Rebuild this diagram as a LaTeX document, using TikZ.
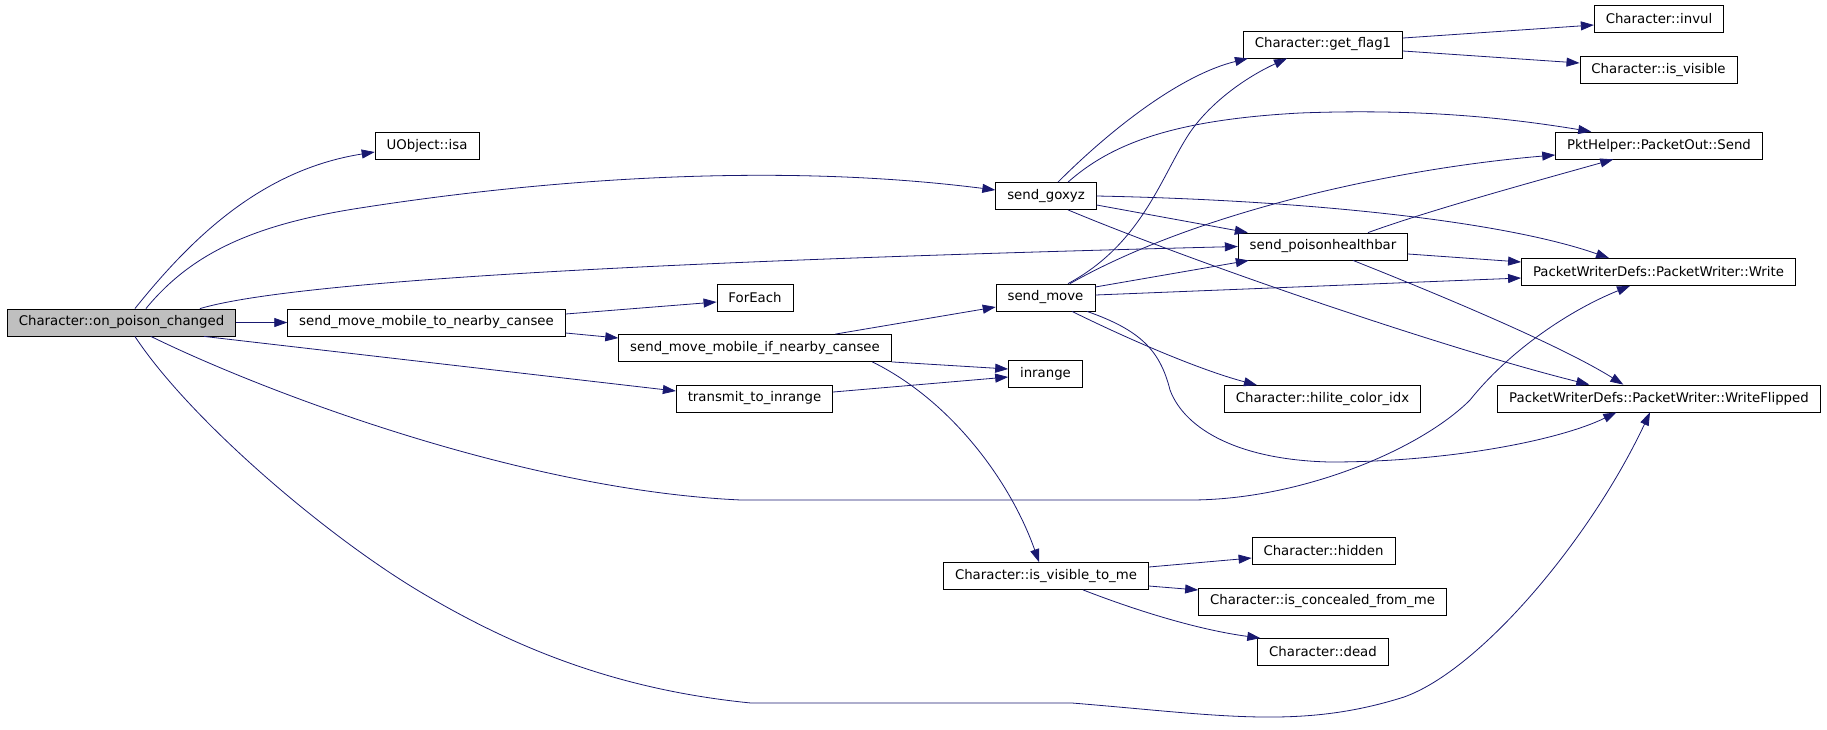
\documentclass[tikz,border=0pt]{standalone}
\usepackage{fontspec}
\setmainfont{DejaVu Sans}
\usepackage{tikz}
\usetikzlibrary{arrows.meta}
\definecolor{callblue}{RGB}{25,25,112}

\begin{document}
\begin{tikzpicture}
        [x=1pt,y=-1pt,
         fn/.style={rectangle,draw=black,line width=0.8pt,fill=white,minimum height=27pt,
                    inner xsep=11.5pt,inner ysep=0pt,font=\fontsize{13.3}{16}\selectfont},
         call/.style={color=callblue,line width=0.8pt,-{Triangle[length=13pt,width=9pt]}}]
        \useasboundingbox (0,0) rectangle (1827,729);

        % columns of the call graph
        \node [fn,fill=gray!50,name=on] at (121.5,322.5) {Character::on\_poison\_changed};
        \node [fn,name=isa] at (427,145.5) {UObject::isa};
        \node [fn,name=mtn] at (426.5,322.5) {send\_move\_mobile\_to\_nearby\_cansee};
        \node [fn,name=foreach] at (755,297.5) {ForEach};
        \node [fn,name=mif] at (755,348) {send\_move\_mobile\_if\_nearby\_cansee};
        \node [fn,name=tx] at (754.5,398.5) {transmit\_to\_inrange};
        \node [fn,name=goxyz] at (1046,196) {send\_goxyz};
        \node [fn,name=move] at (1045.5,297.5) {send\_move};
        \node [fn,name=inr] at (1045.5,373.5) {inrange};
        \node [fn,name=vtm] at (1046,576) {Character::is\_visible\_to\_me};
        \node [fn,name=flag] at (1323,44.5) {Character::get\_flag1};
        \node [fn,name=hb] at (1323,246.5) {send\_poisonhealthbar};
        \node [fn,name=hil] at (1322.5,399) {Character::hilite\_color\_idx};
        \node [fn,name=hid] at (1323.5,550.5) {Character::hidden};
        \node [fn,name=conc] at (1322.5,601.5) {Character::is\_concealed\_from\_me};
        \node [fn,name=dead] at (1323,652) {Character::dead};
        \node [fn,name=invul] at (1659,18.5) {Character::invul};
        \node [fn,name=vis] at (1658.5,70) {Character::is\_visible};
        \node [fn,name=send] at (1659,145.5) {PktHelper::PacketOut::Send};
        \node [fn,name=wr] at (1658.5,272) {PacketWriterDefs::PacketWriter::Write};
        \node [fn,name=wf] at (1659,398.5) {PacketWriterDefs::PacketWriter::WriteFlipped};

        % calls from the root
        \path[call] (on) edge (mtn)
              ([xshift=197pt]on.south west) edge ([yshift=7.5pt]tx.west);
        \draw[call] ([xshift=128pt]on.north west) .. controls (190,240) and (260,170) .. ([yshift=-6.5pt]isa.west);
        \draw[call] ([xshift=139pt]on.north west) .. controls (190,255) and (250,225) .. (360,208)
              .. controls (520,183) and (760,160) .. ([yshift=6pt]goxyz.west);
        \draw[call] ([xshift=193pt]on.north west) .. controls (300,279) and (700,260) .. (hb.west);
        \draw[call] ([xshift=144pt]on.south west) .. controls (260,390) and (520,490) .. (741,500) -- (1190,500)
              .. controls (1300,500) and (1420,450) .. (1470,400)
              .. controls (1510,350) and (1570,310) .. ([xshift=-28.5pt]wr.south);
        \draw[call] ([xshift=128pt]on.south west) .. controls (190,420) and (330,540) .. (429,597)
              .. controls (520,650) and (620,690) .. (751,703) -- (1072,703)
              .. controls (1220,715) and (1300,730) .. (1404,697)
              .. controls (1480,670) and (1590,540) .. ([xshift=-9pt]wf.south);

        % second and third column
        \path[call] ([yshift=8.5pt]mtn.east) edge ([yshift=-4.5pt]foreach.west)
              ([yshift=-10.5pt]mtn.east) edge ([yshift=10pt]mif.west)
              ([xshift=217pt]mif.north west) edge ([yshift=-9.5pt]move.west)
              (mif.south east) edge ([yshift=4.5pt]inr.west)
              ([yshift=6.5pt]tx.east) edge ([yshift=-3.5pt]inr.west);
        \draw[call] ([xshift=254pt]mif.south west) .. controls (950,400) and (1010,480) .. ([xshift=-7pt]vtm.north);

        % send_goxyz
        \draw[call] ([xshift=12pt]goxyz.north) .. controls (1110,130) and (1180,75) .. ([xshift=5pt]flag.south west);
        \draw[call] ([xshift=22pt]goxyz.north) .. controls (1110,145) and (1170,120) .. (1300,113)
              .. controls (1430,108) and (1520,120) .. ([xshift=36pt]send.north west);
        \path[call] ([yshift=-9pt]goxyz.east) edge ([xshift=10pt]hb.north west);
        \draw[call] (goxyz.east) .. controls (1300,200) and (1500,220) .. ([xshift=88pt]wr.north west);
        \draw[call] ([xshift=22pt]goxyz.south) .. controls (1200,265) and (1450,350) .. ([xshift=92pt]wf.north west);

        % send_move
        \draw[call] ([xshift=22.5pt]move.north) .. controls (1140,245) and (1160,180) .. (1187,137)
              .. controls (1205,108) and (1240,80) .. ([xshift=44pt]flag.south west);
        \draw[call] ([xshift=24.5pt]move.north) .. controls (1200,210) and (1400,168) .. ([yshift=-9.5pt]send.west);
        \path[call] ([yshift=10.5pt]move.east) edge ([xshift=11pt]hb.south west)
              ([yshift=2.5pt]move.east) edge ([yshift=-6pt]wr.west);
        \draw[call] ([xshift=26.5pt]move.south) .. controls (1130,340) and (1200,370) .. ([xshift=33pt]hil.north west);
        \draw[call] ([xshift=41.5pt]move.south) .. controls (1140,330) and (1160,350) .. (1170,390)
              .. controls (1185,430) and (1240,460) .. (1330,462)
              .. controls (1450,462) and (1560,440) .. ([xshift=119pt]wf.south west);

        % send_poisonhealthbar
        \draw[call] ([xshift=45pt]hb.north) .. controls (1430,210) and (1540,180) .. ([xshift=58pt]send.south west);
        \path[call] ([yshift=-7.5pt]hb.east) edge ([yshift=10pt]wr.west);
        \draw[call] ([xshift=30pt]hb.south) .. controls (1440,295) and (1560,345) .. ([xshift=126pt]wf.north west);

        % leaves
        \path[call] ([yshift=6.5pt]flag.east) edge ([yshift=-6.5pt]invul.west)
              ([yshift=-6.5pt]flag.east) edge ([yshift=7pt]vis.west)
              ([yshift=9pt]vtm.east) edge ([yshift=-7.5pt]hid.west)
              ([yshift=-10pt]vtm.east) edge ([yshift=11.5pt]conc.west);
        \draw[call] ([xshift=37pt]vtm.south) .. controls (1140,612) and (1200,630) .. ([xshift=3pt]dead.north west);
\end{tikzpicture}
\end{document}
